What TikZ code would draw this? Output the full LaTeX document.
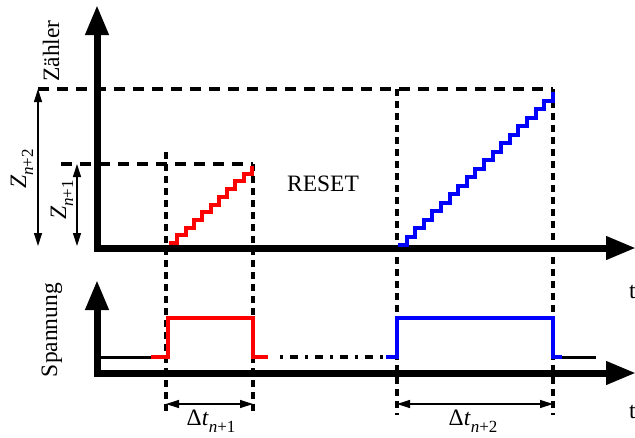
\documentclass[tikz,border=0pt]{standalone}
\usepackage{fontspec}
\setmainfont{Liberation Serif}
\usetikzlibrary{arrows.meta}
\newcommand\ZZsub[1]{\raisebox{-0.3em}{\fontsize{17}{17}\selectfont\textit{n}+#1}}
\begin{document}
\begin{tikzpicture}[x=1pt,y=-1pt,
  axis/.style={line width=7pt, line join=miter,
    {Triangle[length=30pt,width=22pt]}-{Triangle[length=30pt,width=22pt]}},
  guideh/.style={line width=3.5pt, dash pattern=on 11pt off 8pt},
  guidev/.style={line width=3.5pt, dash pattern=on 7pt off 5pt},
  dim/.style={line width=1.2pt,
    {Triangle[length=13pt,width=8pt]}-{Triangle[length=13pt,width=8pt]}},
  lbl/.style={font=\fontsize{23.5}{28}\selectfont, inner sep=0pt},
  stair/.style={line width=4pt, line join=miter},
  pulse/.style={line width=3.5pt, line join=miter},
  base/.style={line width=3pt}
]
\useasboundingbox (0,0) rectangle (635,437);

% key coordinates
\coordinate (ytop) at (97,5);
\coordinate (o1) at (97,248);
\coordinate (xend1) at (636,248);
\coordinate (ytop2) at (97,280);
\coordinate (o2) at (97,373);
\coordinate (xend2) at (636,373);

% guide lines
\draw[guideh] (38,89) -- (553,89);
\draw[guideh] (61,164) -- (253,164);
\draw[guidev] (166,152) -- (166,415);
\draw[guidev] (253,164) -- (253,415);
\draw[guidev] (397,89) -- (397,415);
\draw[guidev] (553,89) -- (553,415);

% axes
\draw[axis] (ytop) -- (o1) -- (xend1);
\draw[axis] (ytop2) -- (o2) -- (xend2);

% staircases
\draw[stair,red] (169,243) \foreach \i in {1,...,10} { -- ++(8.3,0) -- ++(0,-7.7) };
\draw[stair,blue] (398,245) \foreach \i in {1,...,18} { -- ++(8.6,0) -- ++(0,-8.5) };

% pulses
\draw[base] (100,357) -- (151,357);
\draw[pulse,red] (151,357) -- (168,357) -- (168,318) -- (253,318) -- (253,357) -- (268,357);
\draw[line width=3.5pt, dash pattern=on 3pt off 7pt on 8pt off 7pt] (280,357) -- (385,357);
\draw[pulse,blue] (386,357) -- (397,357) -- (397,318) -- (553,318) -- (553,357) -- (562,357);
\draw[base] (562,357) -- (596,357);

% dimension arrows
\coordinate (z2a) at (38,89);  \coordinate (z2b) at (38,246);
\coordinate (z1a) at (77,164); \coordinate (z1b) at (77,246);
\coordinate (d1a) at (166,404); \coordinate (d1b) at (253,404);
\coordinate (d2a) at (397,404); \coordinate (d2b) at (553,404);
\draw[dim] (z2a) -- (z2b);
\draw[dim] (z1a) -- (z1b);
\draw[dim] (d1a) -- (d1b);
\draw[dim] (d2a) -- (d2b);

% labels
\node[lbl, rotate=90] (zaehler) at (51,51) {Zähler};
\node[lbl, rotate=90] (spannung) at (52,330) {Spannung};
\node[lbl] (reset) at (323,184) {RESET};
\node[lbl, rotate=90] (zn2) at (22,169) {\textit{Z}\ZZsub{2}};
\node[lbl, rotate=90] (zn1) at (62,200) {\textit{Z}\ZZsub{1}};
\node[lbl] (dt1) at (211,421) {Δ\textit{t}\ZZsub{1}};
\node[lbl] (dt2) at (473,421) {Δ\textit{t}\ZZsub{2}};
\node[lbl, anchor=west] (t1) at (629,292) {t};
\node[lbl, anchor=west] (t2) at (629,412) {t};
\end{tikzpicture}
\end{document}
